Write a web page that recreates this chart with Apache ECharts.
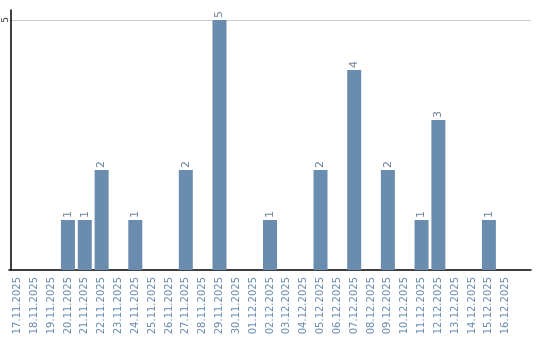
<!DOCTYPE html>
<html>
<head>
<meta charset="utf-8">
<script src="https://cdn.jsdelivr.net/npm/echarts@6/dist/echarts.min.js"></script>
<style>html,body{margin:0;padding:0;background:#fff}#c{width:540px;height:340px}</style>
</head>
<body>
<div id="c"></div>
<script>
const categories = ["17.11.2025","18.11.2025","19.11.2025","20.11.2025","21.11.2025","22.11.2025","23.11.2025","24.11.2025","25.11.2025","26.11.2025","27.11.2025","28.11.2025","29.11.2025","30.11.2025","01.12.2025","02.12.2025","03.12.2025","04.12.2025","05.12.2025","06.12.2025","07.12.2025","08.12.2025","09.12.2025","10.12.2025","11.12.2025","12.12.2025","13.12.2025","14.12.2025","15.12.2025","16.12.2025"];
const values = [0,0,0,1,1,2,0,1,0,0,2,0,5,0,0,1,0,0,2,0,4,0,2,0,1,3,0,0,1,0];
const yTickLabels = ["5"];

const chart = echarts.init(document.getElementById('c'), null, {renderer:'canvas'});
const barColor = '#6a8caf';
chart.setOption({
  animation: false,
  backgroundColor: '#fff',
  grid: {left: 9, right: 9, top: 10, bottom: 70, containLabel: false},
  xAxis: {
    type: 'category',
    data: categories,
    max: categories.length,
    axisLine: {show: true, lineStyle: {color: '#000', width: 1.5}},
    axisTick: {show: false},
    axisLabel: {rotate: 90, interval: 0, color: barColor, fontFamily: 'DejaVu Sans', fontSize: 10, margin: 7,
      formatter: v => (v === undefined || v === null) ? '' : v}
  },
  yAxis: {
    type: 'value',
    min: 0, max: 5.2, interval: 5,
    offset: -2,
    axisLine: {show: true, lineStyle: {color: '#000', width: 1.5}},
    axisTick: {show: false},
    splitLine: {show: true, lineStyle: {color: ['transparent', '#cccccc', 'transparent'], width: 1}},
    axisLabel: {rotate: 90, color: '#333', fontFamily: 'DejaVu Sans', fontSize: 9, margin: 1,
      formatter: v => yTickLabels.includes(String(v)) ? String(v) : ''}
  },
  series: [{
    type: 'bar',
    data: values.map(v => v === 0 ? null : v),
    barWidth: 14,
    itemStyle: {color: barColor},
    label: {show: true, position: 'top', rotate: 90, align: 'left', verticalAlign: 'middle', distance: 2,
      color: '#71859a', fontFamily: 'DejaVu Sans', fontSize: 11}
  }]
});
</script>
</body>
</html>
